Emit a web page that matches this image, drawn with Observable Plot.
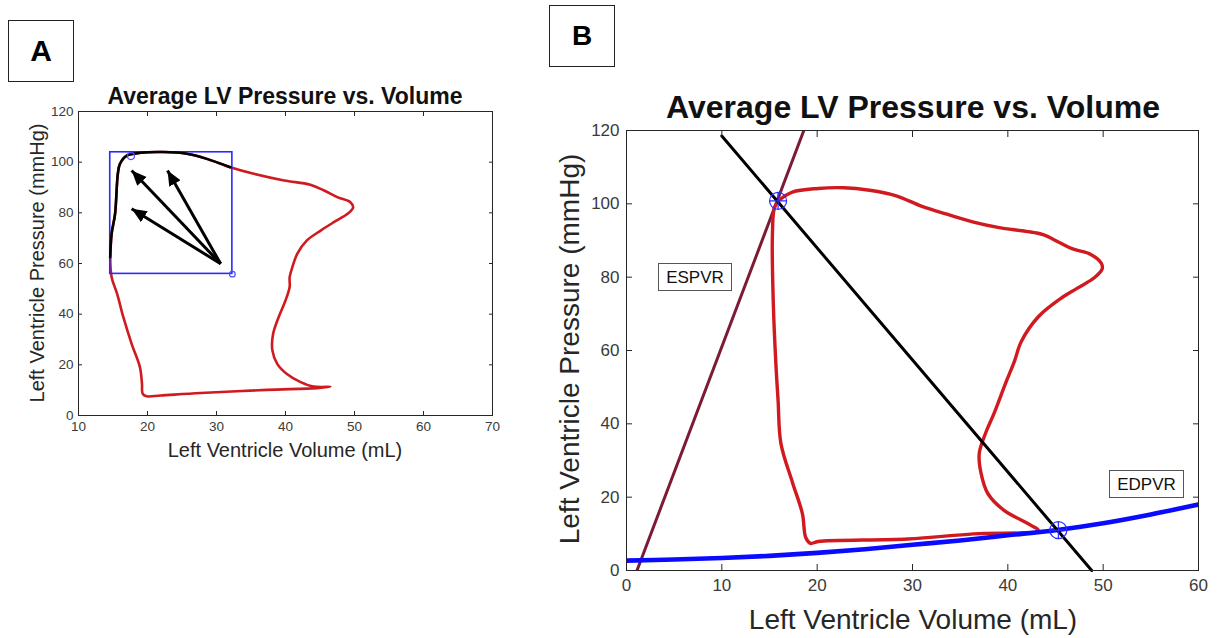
<!DOCTYPE html>
<html>
<head>
<meta charset="utf-8">
<script src="https://cdn.jsdelivr.net/npm/d3@7"></script>
<script src="https://cdn.jsdelivr.net/npm/@observablehq/plot@0.6"></script>
<style>
  html, body { margin: 0; padding: 0; background: #fff; }
  #root { position: relative; width: 1219px; height: 638px; overflow: hidden; font-family: "Liberation Sans", Arial, Helvetica, sans-serif; color: #262626; }
  .abs { position: absolute; white-space: nowrap; }
  .c { transform: translate(-50%, -50%); }
  .rot { transform: translate(-50%, -50%) rotate(-90deg); }
  .panel { position: absolute; border: 1.5px solid #222; box-sizing: border-box; font-weight: bold; color: #000; display: flex; align-items: center; justify-content: center; }
  .tag { position: absolute; border: 1.3px solid #555; box-sizing: border-box; background: #fff; color: #111; display: flex; align-items: flex-end; justify-content: center; padding-bottom: 2px; }
  .svgA, .svgB { position: absolute; }
</style>
</head>
<body>
<div id="root">
  <div class="panel" style="left:8px;top:20px;width:66px;height:62px;font-size:30px;">A</div>
  <div class="panel" style="left:549px;top:5px;width:66px;height:62px;font-size:28px;">B</div>

  <div class="abs c" style="left:285px;top:96px;font-size:23px;font-weight:bold;color:#111;">Average LV Pressure vs. Volume</div>
  <div class="abs c" style="left:913px;top:107px;font-size:32px;font-weight:bold;color:#111;">Average LV Pressure vs. Volume</div>

  <div class="abs c" style="left:285px;top:450px;font-size:20px;">Left Ventricle Volume (mL)</div>
  <div class="abs rot" style="left:37px;top:263px;font-size:20px;">Left Ventricle Pressure (mmHg)</div>

  <div class="abs c" style="left:913px;top:620px;font-size:28px;">Left Ventricle Volume (mL)</div>
  <div class="abs rot" style="left:570px;top:349px;font-size:28px;">Left Ventricle Pressure (mmHg)</div>

  <div id="chartA" class="svgA" style="left:0px;top:100px;"></div>
  <div id="chartB" class="svgB" style="left:540px;top:100px;"></div>

  <div class="tag" style="left:658px;top:263px;width:74px;height:28px;font-size:17px;">ESPVR</div>
  <div class="tag" style="left:1109px;top:470px;width:75px;height:28px;font-size:17px;">EDPVR</div>
</div>
<script>
// ---------- Panel A data ----------
const xTicksA = [10, 20, 30, 40, 50, 60, 70];
const yTicksA = [0, 20, 40, 60, 80, 100, 120];
const loopA_V = [14.6, 14.8, 15.3, 15.7, 16.0, 17.0, 19.0, 22.3, 25.7, 28.6, 32.0, 35.4, 39.8, 43.6, 45.6, 47.5, 49.4, 49.8, 49.0, 47.0, 45.1, 43.1, 41.7, 41.0, 40.6, 40.6, 40.0, 39.0, 38.2, 38.1, 38.8, 40.2, 42.2, 44.1, 46.5, 44.6, 37.3, 27.7, 21.9, 19.9, 19.3, 19.2, 18.9, 17.7, 16.5, 15.6, 14.8, 14.6];
const loopA_P = [62.5, 71.7, 79.6, 95.4, 99.3, 102.6, 103.7, 104.0, 103.3, 101.3, 98.0, 95.4, 92.8, 91.1, 88.8, 86.2, 84.2, 82.2, 79.6, 76.3, 73.0, 69.1, 63.8, 58.6, 54.6, 50.7, 45.4, 38.8, 32.2, 25.7, 20.4, 16.4, 13.2, 11.4, 11.3, 10.8, 10.1, 8.9, 7.9, 7.6, 8.6, 12.5, 19.1, 28.3, 38.8, 48.0, 54.6, 62.5];
const ejectA_count = 11; // first points of the loop drawn in black (ejection)
const boxA_V = [14.6, 32.3];
const boxA_P = [55.9, 103.9];
const markA_V = [17.6, 32.3];
const markA_P = [102.4, 55.8];
const markA_R = [5.5, 3.5];
const arrowTailA = [30.6, 59.9];
const arrowHeadA_V = [17.7, 22.9, 17.7];
const arrowHeadA_P = [96.7, 96.7, 81.6];

// ---------- Panel B data ----------
const xTicksB = [0, 10, 20, 30, 40, 50, 60];
const yTicksB = [0, 20, 40, 60, 80, 100, 120];
const loopB_V = [15.9, 17.4, 20.1, 22.8, 25.5, 28.3, 31.0, 33.7, 36.4, 39.1, 41.9, 43.7, 45.3, 46.8, 48.7, 49.8, 49.9, 49.1, 47.3, 45.5, 43.2, 41.4, 40.7, 39.8, 38.5, 37.7, 37.0, 37.2, 37.9, 39.6, 42.1, 43.2, 36.4, 29.5, 20.1, 19.3, 18.8, 18.45, 17.4, 16.2, 15.9, 15.65, 15.4, 15.3, 15.5, 15.9];
const loopB_P = [100.8, 103.2, 104.2, 104.4, 103.7, 102.2, 99.3, 97.1, 95.0, 93.5, 92.5, 91.6, 89.6, 87.7, 86.2, 83.8, 82.3, 79.9, 77.0, 74.1, 69.2, 62.4, 57.1, 51.3, 42.5, 37.7, 31.9, 26.4, 21.0, 16.4, 12.8, 10.9, 10.0, 8.6, 7.9, 7.4, 9.0, 15.5, 24.1, 34.6, 46.4, 57.3, 72.8, 90.9, 98.8, 100.8];
const edpvr_V = [0, 5, 10, 15, 20, 25, 30, 35, 40, 45, 50, 55, 60];
const edpvr_P = [2.7, 3.0, 3.4, 4.0, 4.8, 5.8, 7.0, 8.2, 9.6, 11.0, 12.9, 15.3, 18.0];
const espvr_V = [1.1, 18.6];
const espvr_P = [0, 120];
const ealine_V = [10.0, 48.8];
const ealine_P = [118.5, 0];
const pointsB_V = [15.9, 45.3];
const pointsB_P = [100.8, 11.0];

// ---------- helpers ----------
const zip = (V, P) => V.map((v, i) => ({v, p: P[i]}));
const RED = "#d11a1f", BLUE = "#0a0aff", AXIS = "#262626", TXT = "#3a3a3a";

function triMarker(color) {
  const ns = "http://www.w3.org/2000/svg";
  const m = document.createElementNS(ns, "marker");
  m.setAttribute("viewBox", "-15 -7 15 14");
  m.setAttribute("markerWidth", "15");
  m.setAttribute("markerHeight", "14");
  m.setAttribute("markerUnits", "userSpaceOnUse");
  m.setAttribute("orient", "auto");
  m.setAttribute("refX", "0");
  m.setAttribute("refY", "0");
  const p = document.createElementNS(ns, "path");
  p.setAttribute("d", "M0,0L-15,-6.5L-15,6.5Z");
  p.setAttribute("fill", color);
  p.setAttribute("stroke", "none");
  m.appendChild(p);
  return m;
}

const circlePlus = {
  draw(ctx, size) {
    const r = Math.sqrt(size / Math.PI);
    ctx.moveTo(r, 0);
    ctx.arc(0, 0, r, 0, 2 * Math.PI);
    ctx.moveTo(-r, 0); ctx.lineTo(r, 0);
    ctx.moveTo(0, -r); ctx.lineTo(0, r);
  }
};

function frameAxes(xt, yt, fs, pad, tick) {
  return [
    Plot.axisX({anchor: "bottom", ticks: xt, tickSize: 0, tickPadding: pad, fontSize: fs, color: TXT, label: null, tickFormat: d => d}),
    Plot.axisY({anchor: "left", ticks: yt, tickSize: 0, tickPadding: pad - 1, fontSize: fs, color: TXT, label: null, tickFormat: d => d}),
    Plot.axisX({anchor: "bottom", ticks: xt, tickSize: -tick, stroke: AXIS, label: null, tickFormat: () => ""}),
    Plot.axisX({anchor: "top", ticks: xt, tickSize: -tick, stroke: AXIS, label: null, tickFormat: () => ""}),
    Plot.axisY({anchor: "left", ticks: yt, tickSize: -tick, stroke: AXIS, label: null, tickFormat: () => ""}),
    Plot.axisY({anchor: "right", ticks: yt, tickSize: -tick, stroke: AXIS, label: null, tickFormat: () => ""}),
    Plot.frame({stroke: AXIS, strokeWidth: 1})
  ];
}

// ---------- Panel A ----------
const loopA = zip(loopA_V, loopA_P);
const ejectA = loopA.slice(0, ejectA_count);
const boxA = [{x1: boxA_V[0], x2: boxA_V[1], y1: boxA_P[0], y2: boxA_P[1]}];
const marksA = markA_V.map((v, i) => ({v, p: markA_P[i], r: markA_R[i]}));
const arrowsA = arrowHeadA_V.map((v, i) => ({x1: arrowTailA[0], y1: arrowTailA[1], x2: v, y2: arrowHeadA_P[i]}));

function arrowMark(useFn) {
  return Plot.link(arrowsA, {x1: "x1", y1: "y1", x2: "x2", y2: "y2", stroke: "#000", strokeWidth: 3, markerEnd: useFn ? triMarker : "arrow"});
}

function buildA(useFn) {
  return Plot.plot({
    width: 510, height: 360,
    marginLeft: 78, marginRight: 18, marginTop: 11, marginBottom: 45,
    x: {domain: [10, 70], label: null},
    y: {domain: [0, 120], label: null},
    style: {background: "transparent", fontFamily: "'Liberation Sans', Arial, sans-serif", overflow: "visible"},
    marks: [
      Plot.line(loopA, {x: "v", y: "p", stroke: RED, strokeWidth: 2.6, curve: "catmull-rom"}),
      Plot.rect(boxA, {x1: "x1", x2: "x2", y1: "y1", y2: "y2", fill: "none", stroke: "#2a2aff", strokeWidth: 1.6}),
      Plot.line(ejectA, {x: "v", y: "p", stroke: "#000", strokeWidth: 2.6, curve: "catmull-rom"}),
      arrowMark(useFn),
      Plot.dot(marksA, {x: "v", y: "p", r: "r", stroke: "#4a4aff", strokeWidth: 1.2, fill: "none"}),
      ...frameAxes(xTicksA, yTicksA, 13.5, 6, 4)
    ]
  });
}

let svgA;
try { svgA = buildA(true); } catch (e) { svgA = buildA(false); }
document.getElementById("chartA").appendChild(svgA);

// ---------- Panel B ----------
const loopB = zip(loopB_V, loopB_P);
const edpvr = zip(edpvr_V, edpvr_P);
const espvr = zip(espvr_V, espvr_P);
const ealine = zip(ealine_V, ealine_P);
const pointsB = zip(pointsB_V, pointsB_P);

const svgB = Plot.plot({
  width: 679, height: 520,
  marginLeft: 86, marginRight: 21, marginTop: 30, marginBottom: 50,
  x: {domain: [0, 60], label: null},
  y: {domain: [0, 120], label: null},
  style: {background: "transparent", fontFamily: "'Liberation Sans', Arial, sans-serif", overflow: "visible"},
  marks: [
    Plot.line(espvr, {x: "v", y: "p", stroke: "#7d1b35", strokeWidth: 3, clip: true}),
    Plot.line(loopB, {x: "v", y: "p", stroke: RED, strokeWidth: 3.4, curve: "catmull-rom"}),
    Plot.line(edpvr, {x: "v", y: "p", stroke: BLUE, strokeWidth: 4.6, curve: "catmull-rom", clip: true}),
    Plot.line(ealine, {x: "v", y: "p", stroke: "#000", strokeWidth: 3}),
    Plot.dot(pointsB, {x: "v", y: "p", r: 8.5, symbol: circlePlus, stroke: "#2a2aff", strokeWidth: 1.2, fill: "none"}),
    ...frameAxes(xTicksB, yTicksB, 17, 8, 6)
  ]
});
document.getElementById("chartB").appendChild(svgB);
</script>
</body>
</html>
